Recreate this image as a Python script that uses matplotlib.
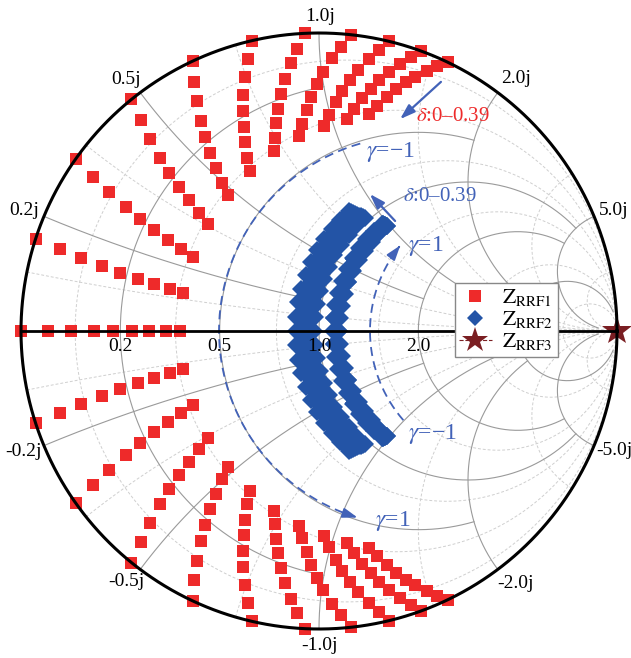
import numpy as np
import matplotlib.pyplot as plt
from matplotlib.lines import Line2D

plt.rcParams['mathtext.fontset'] = 'stix'
plt.rcParams['font.family'] = ['Liberation Serif', 'DejaVu Serif']

W, H = 631, 658
CX, CY, R = 319, 331, 298  # chart centre and radius in pixels

RED = '#ee2a2a'
BLUE = '#2354a6'
NOTE = '#4262b8'
STAR = '#7a1e22'
GRID = '#9a9a9a'
MINOR = '#cfcfcf'

# Z_RRF1: normalised resistance per delta step, reactance per (gamma, delta)
red_r = [0.0, 0.047, 0.092, 0.14, 0.183, 0.229, 0.274, 0.322, 0.364]
red_x = [
    [-1.590, -1.542, -1.495, -1.439, -1.391, -1.344, -1.296, -1.240, -1.193],
    [-1.431, -1.388, -1.345, -1.295, -1.252, -1.209, -1.166, -1.116, -1.073],
    [-1.272, -1.234, -1.196, -1.151, -1.113, -1.075, -1.037, -0.992, -0.954],
    [-1.113, -1.080, -1.046, -1.007, -0.974, -0.940, -0.907, -0.868, -0.835],
    [-0.954, -0.925, -0.897, -0.863, -0.835, -0.806, -0.778, -0.744, -0.716],
    [-0.795, -0.771, -0.747, -0.719, -0.696, -0.672, -0.648, -0.620, -0.596],
    [-0.636, -0.617, -0.598, -0.576, -0.557, -0.537, -0.518, -0.496, -0.477],
    [-0.477, -0.463, -0.448, -0.432, -0.417, -0.403, -0.389, -0.372, -0.358],
    [-0.318, -0.308, -0.299, -0.288, -0.278, -0.269, -0.259, -0.248, -0.239],
    [-0.159, -0.154, -0.149, -0.144, -0.139, -0.134, -0.130, -0.124, -0.119],
    [0.000, 0.000, 0.000, 0.000, 0.000, 0.000, 0.000, 0.000, 0.000],
    [0.159, 0.154, 0.149, 0.144, 0.139, 0.134, 0.130, 0.124, 0.119],
    [0.318, 0.308, 0.299, 0.288, 0.278, 0.269, 0.259, 0.248, 0.239],
    [0.477, 0.463, 0.448, 0.432, 0.417, 0.403, 0.389, 0.372, 0.358],
    [0.636, 0.617, 0.598, 0.576, 0.557, 0.537, 0.518, 0.496, 0.477],
    [0.795, 0.771, 0.747, 0.719, 0.696, 0.672, 0.648, 0.620, 0.596],
    [0.954, 0.925, 0.897, 0.863, 0.835, 0.806, 0.778, 0.744, 0.716],
    [1.113, 1.080, 1.046, 1.007, 0.974, 0.940, 0.907, 0.868, 0.835],
    [1.272, 1.234, 1.196, 1.151, 1.113, 1.075, 1.037, 0.992, 0.954],
    [1.431, 1.388, 1.345, 1.295, 1.252, 1.209, 1.166, 1.116, 1.073],
    [1.590, 1.542, 1.495, 1.439, 1.391, 1.344, 1.296, 1.240, 1.193],
]

# Z_RRF2: two bands either side of r = 1, one row per gamma step
blue_gamma = [-1.0, -0.9, -0.8, -0.7, -0.6, -0.5, -0.4, -0.3, -0.2, -0.1, 0.0,
              0.1, 0.2, 0.3, 0.4, 0.5, 0.6, 0.7, 0.8, 0.9, 1.0]
inner_r = [0.968, 0.954, 0.94, 0.926, 0.911, 0.897, 0.883, 0.868, 0.854]
inner_xs = [0.88, 0.874, 0.868, 0.861, 0.855, 0.849, 0.843, 0.836, 0.83]
outer_r = [1.098, 1.104, 1.11, 1.116, 1.122, 1.129, 1.135, 1.141, 1.147]
outer_xs = [0.96, 0.962, 0.965, 0.967, 0.97, 0.972, 0.975, 0.977, 0.98]

# Z_RRF3: open circuit
star_z = [1e9]

r_major = [0.2, 0.5, 1.0, 2.0, 5.0]
r_major_lim = [1.0, 2.0, 5.0, 5.0, 30.0]
minor_vals = [0.1, 0.35, 0.75, 1.5, 3.5, 10.0]


def gamma(z):
    z = np.asarray(z, dtype=complex)
    return (z - 1) / (z + 1)


def px(X, Y):
    return (X - CX) / R, (CY - Y) / R


def r_circle(ax, r, xlim, **kw):
    t = np.linspace(-np.arctan(xlim), np.arctan(xlim), 500)
    g = gamma(r + 1j * np.tan(t))
    ax.plot(g.real, g.imag, **kw)


def x_arc(ax, x, rlim, **kw):
    t = np.linspace(0, np.arctan(rlim), 500)
    g = gamma(np.tan(t) + 1j * x)
    ax.plot(g.real, g.imag, **kw)


fig = plt.figure(figsize=(W / 100, H / 100), dpi=100)
ax = fig.add_axes([0, 0, 1, 1])
ax.set_xlim(-CX / R, (W - CX) / R)
ax.set_ylim((CY - H) / R, CY / R)
ax.axis('off')

# minor grid
for v in minor_vals:
    r_circle(ax, v, 1e4, color=MINOR, lw=0.7, ls=(0, (3, 2)), zorder=1)
    x_arc(ax, v, 1e4, color=MINOR, lw=0.7, ls=(0, (3, 2)), zorder=1)
    x_arc(ax, -v, 1e4, color=MINOR, lw=0.7, ls=(0, (3, 2)), zorder=1)

# major grid
for v, lim in zip(r_major, r_major_lim):
    r_circle(ax, v, lim, color=GRID, lw=0.8, zorder=2)
    x_arc(ax, v, lim, color=GRID, lw=0.8, zorder=2)
    x_arc(ax, -v, lim, color=GRID, lw=0.8, zorder=2)

# rim and real axis sit above the markers
th = np.linspace(0, 2 * np.pi, 720)
ax.plot(np.cos(th), np.sin(th), color='black', lw=2.2, zorder=9.5)
ax.plot([-1, 1], [0, 0], color='black', lw=2.0, zorder=9.5)

# axis and rim labels
for v in [0.2, 0.5, 1.0, 2.0]:
    g = gamma(v)
    ax.text(g.real, -0.022, f'{v:.1f}', ha='center', va='top', fontsize=14, zorder=11)

rim_labels = [('0.2j', 24, 211), ('0.5j', 126, 80), ('1.0j', 320, 17),
              ('2.0j', 516, 79), ('-0.2j', 24, 452), ('-0.5j', 126, 582),
              ('-1.0j', 320, 645), ('-2.0j', 516, 584)]
for s, X, Y in rim_labels:
    ax.text(*px(X, Y), s, ha='center', va='center', fontsize=14, zorder=4)
ax.text(*px(599, 211), '5.0j', ha='left', va='center', fontsize=14, zorder=4)
ax.text(*px(596, 451), '-5.0j', ha='left', va='center', fontsize=14, zorder=4)


# annotation arcs and arrows
def dashed_arc(cx, cy, rad, a0, a1):
    a = np.radians(np.linspace(a0, a1, 200))
    xs = (cx + rad * np.cos(a) - CX) / R
    ys = (CY - (cy - rad * np.sin(a))) / R
    ax.plot(xs[:-4], ys[:-4], color=NOTE, lw=1.3, ls=(0, (5, 3)), zorder=5)
    ax.annotate('', xy=(xs[-1], ys[-1]), xytext=(xs[-6], ys[-6]),
                arrowprops=dict(arrowstyle='-|>,head_length=0.9,head_width=0.3',
                                color=NOTE, lw=1.3), zorder=5)


dashed_arc(414, 331, 195, 106, 254)
dashed_arc(506, 331, 136, 221, 141)

for (x0, y0), (x1, y1) in [((443, 80), (398, 121)), ((397, 223), (368, 192))]:
    ax.annotate('', xy=px(x1, y1), xytext=px(x0, y0),
                arrowprops=dict(arrowstyle='-|>,head_length=0.9,head_width=0.3',
                                color=NOTE, lw=1.6), zorder=5)

ax.text(*px(416, 117), r'$\delta$:0–0.39', color=RED, fontsize=15, va='center', zorder=6)
ax.text(*px(403, 197), r'$\delta$:0–0.39', color=NOTE, fontsize=15, va='center', zorder=6)
ax.text(*px(366, 152), r'$\gamma$=−1', color=NOTE, fontsize=17, va='center', zorder=6)
ax.text(*px(408, 246), r'$\gamma$=1', color=NOTE, fontsize=17, va='center', zorder=6)
ax.text(*px(408, 434), r'$\gamma$=−1', color=NOTE, fontsize=17, va='center', zorder=6)
ax.text(*px(375, 521), r'$\gamma$=1', color=NOTE, fontsize=17, va='center', zorder=6)

# data
zr = np.array(red_r)[None, :] + 1j * np.array(red_x)
gr = gamma(zr)
ax.plot(gr.real.ravel(), gr.imag.ravel(), 's', color=RED, ms=9.3, mew=0, zorder=7)

gam = np.array(blue_gamma)[:, None]
zi = np.array(inner_r)[None, :] - 1j * gam * np.array(inner_xs)[None, :]
zo = np.array(outer_r)[None, :] + 1j * gam * np.array(outer_xs)[None, :]
for z in (zi, zo):
    g = gamma(z)
    ax.plot(g.real.ravel(), g.imag.ravel(), 'D', color=BLUE, ms=8.8, mew=0, zorder=8)

gs = gamma(star_z)
ax.plot(gs.real, gs.imag, '*', color=STAR, ms=22, mew=0, zorder=9)

handles = [
    Line2D([], [], ls='none', marker='s', color=RED, ms=9, mew=0),
    Line2D([], [], ls='none', marker='D', color=BLUE, ms=8, mew=0),
    Line2D([], [], ls='--', marker='*', color=STAR, ms=19, mew=0, lw=0.8),
]
labels = [r'$\mathrm{Z}_{\mathrm{RRF1}}$', r'$\mathrm{Z}_{\mathrm{RRF2}}$',
          r'$\mathrm{Z}_{\mathrm{RRF3}}$']
leg = ax.legend(handles, labels, loc='upper left',
                bbox_to_anchor=(455 / W, 1 - 283 / H), bbox_transform=fig.transFigure,
                borderaxespad=0, fontsize=15.5, frameon=True, fancybox=False,
                edgecolor='#888888', framealpha=1, handlelength=1.5,
                labelspacing=0.05, borderpad=0.2, handletextpad=0.5)
leg.get_frame().set_linewidth(1.0)
leg.set_zorder(12)

fig.savefig('out.png', dpi=100)
